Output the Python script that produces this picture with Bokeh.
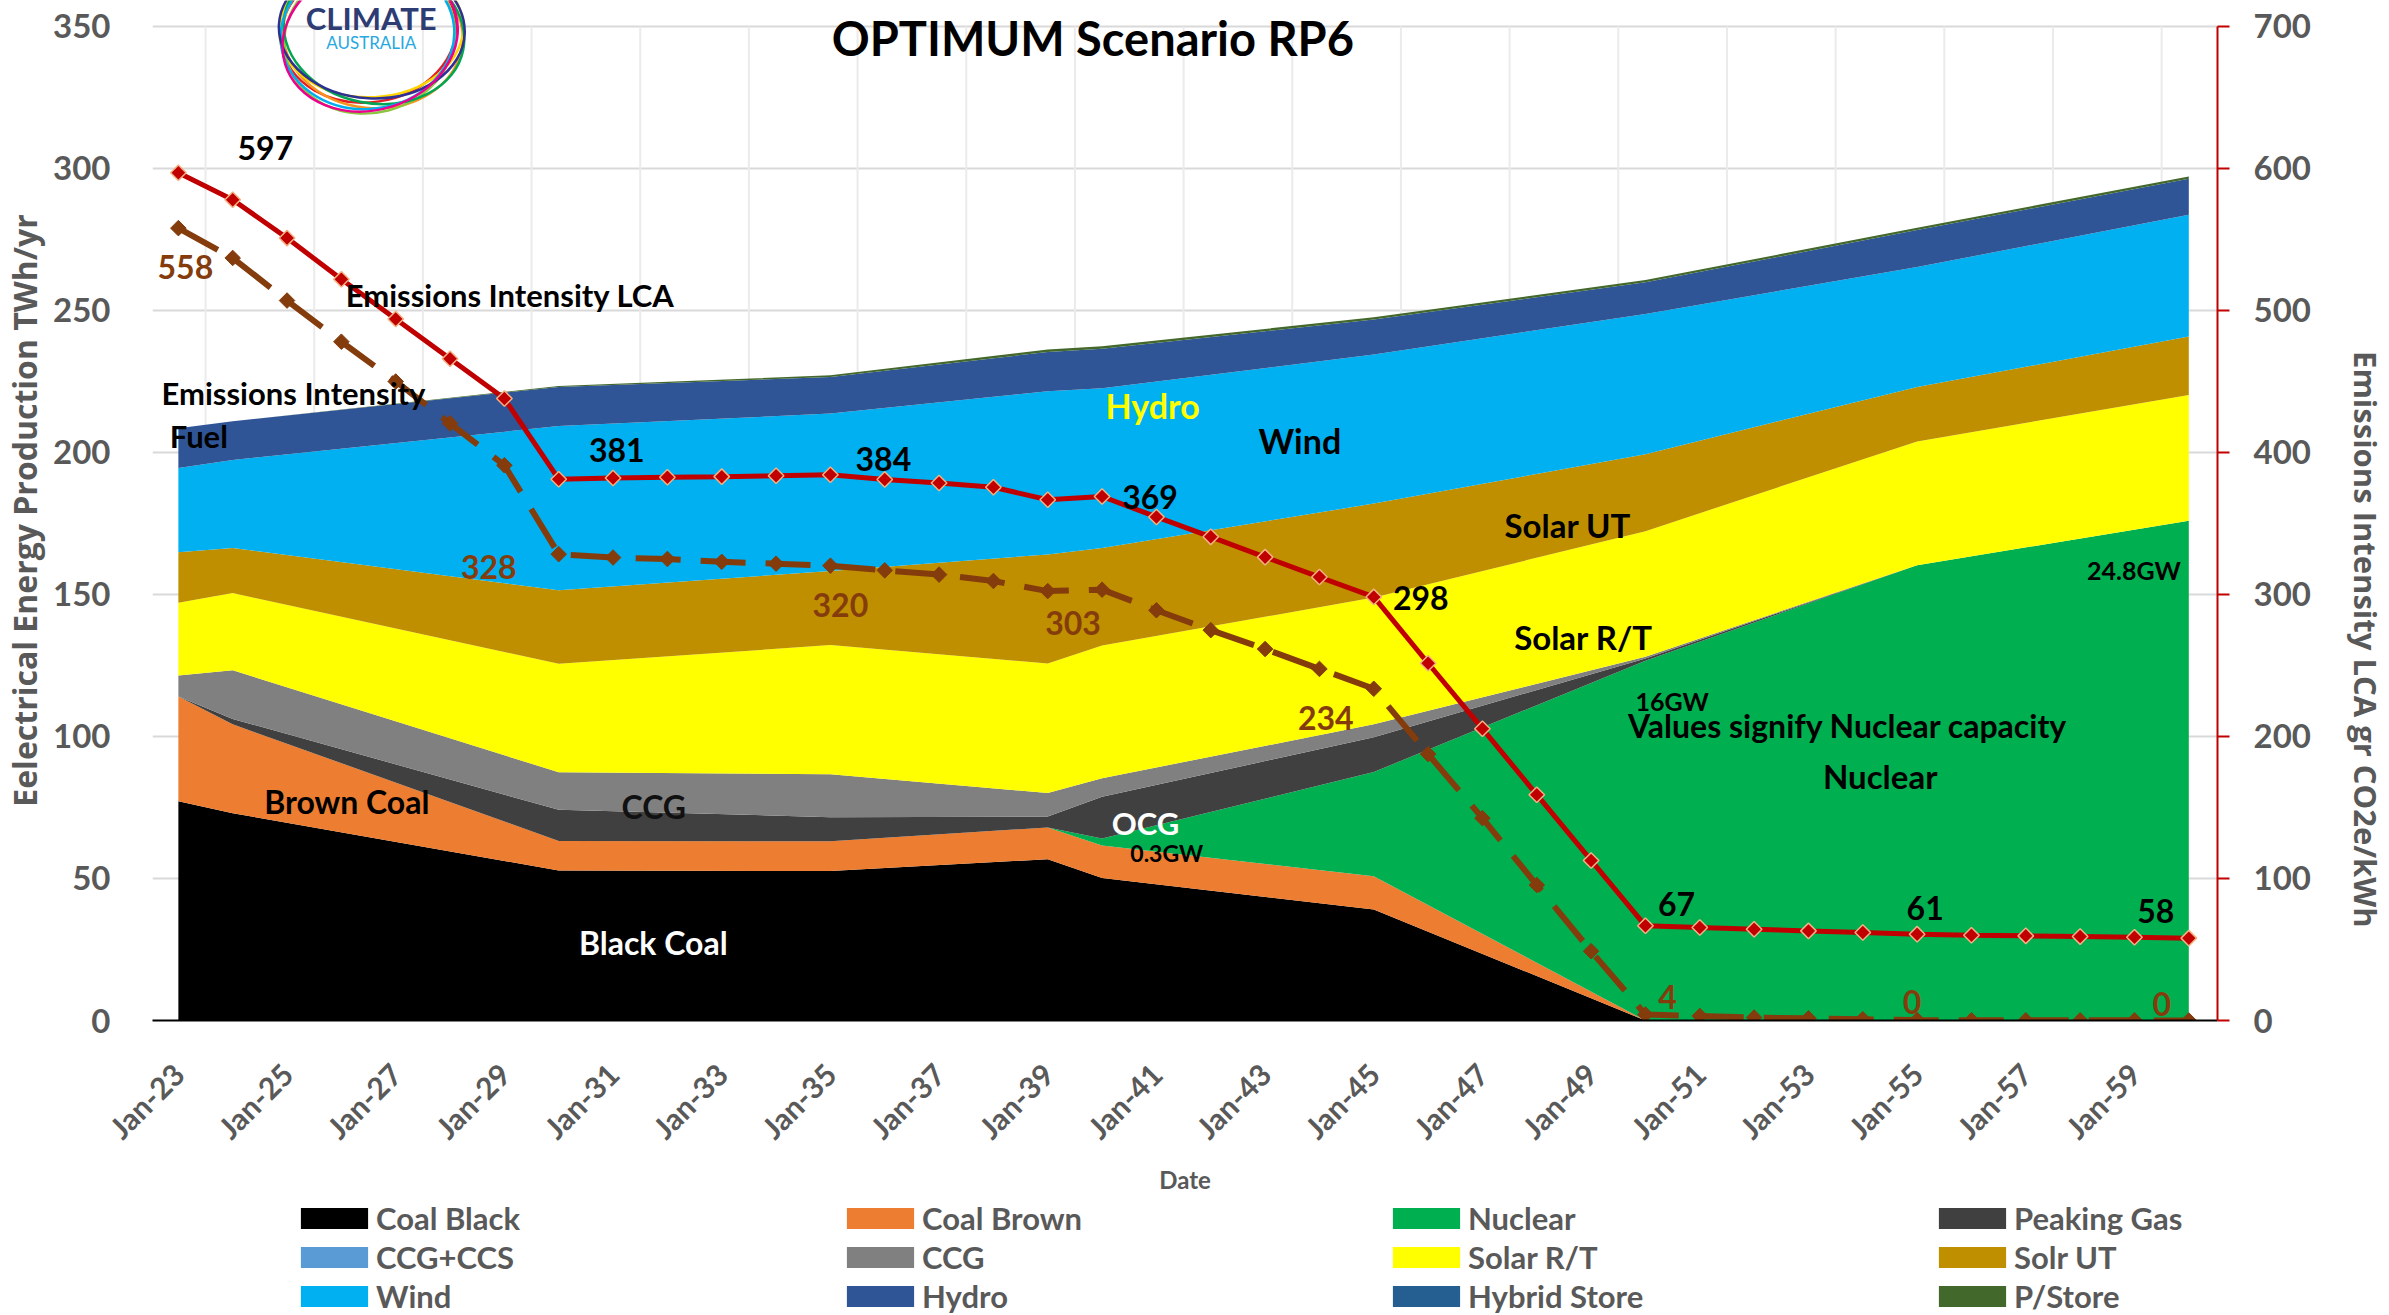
import numpy as np
from bokeh.plotting import figure
from bokeh.layouts import column
from bokeh.models import (Range1d, LinearAxis, FixedTicker, Label, Legend,
                          LegendItem, ColumnDataSource)
from bokeh.embed import file_html
from bokeh.resources import INLINE

# ---------------- data ----------------
milestone_years = [2023, 2024, 2030, 2035, 2039, 2040, 2045, 2050, 2055, 2060]
coal_black   = [77.2, 73.0, 52.8, 52.6, 56.8, 50.2, 39.1, 0.0, 0.0, 0.0]
coal_brown   = [36.9, 31.3, 10.4, 10.5, 11.2, 11.4, 11.7, 0.0, 0.0, 0.0]
nuclear      = [0.0, 0.0, 0.0, 0.0, 0.0, 2.5, 36.7, 126.7, 160.3, 176.0]
peaking_gas  = [0.0, 1.9, 11.0, 8.5, 3.8, 14.7, 12.2, 0.8, 0.0, 0.0]
ccg_ccs      = [0.0, 0.0, 0.0, 0.0, 0.0, 0.0, 0.0, 0.0, 0.0, 0.0]
ccg          = [7.4, 17.1, 13.2, 15.1, 8.3, 6.5, 4.6, 0.6, 0.0, 0.0]
solar_rt     = [25.6, 27.2, 38.2, 45.5, 45.6, 46.7, 44.6, 44.2, 43.6, 44.2]
solar_ut     = [17.8, 15.9, 25.9, 26.1, 38.4, 34.4, 33.1, 27.1, 19.2, 20.6]
wind         = [29.6, 31.0, 57.8, 55.4, 57.5, 56.2, 52.5, 49.4, 42.2, 42.9]
hydro        = [14.0, 13.6, 13.8, 12.9, 13.8, 13.9, 12.3, 11.1, 13.0, 12.7]
hybrid_store = [0.0, 0.0, 0.0, 0.0, 0.0, 0.0, 0.0, 0.0, 0.0, 0.0]
p_store      = [0.0, 0.0, 0.3, 0.6, 0.9, 0.9, 0.8, 0.8, 0.8, 0.8]

emission_years = list(range(2023, 2061))
emissions_lca = [597, 578, 551, 522, 494, 466, 438, 381.2, 382, 382.6,
                 383, 383.6, 384.3, 381, 378.5, 375.5, 366.7, 369, 354.6, 340.6,
                 326.3, 312.3, 298.3, 251.6, 205.5, 159, 112.7, 66.7, 65.5, 64.3,
                 63.1, 62.0, 60.8, 60.0, 59.6, 59.1, 58.6, 58.0]
emissions_fuel = [558, 537, 507, 478, 450, 420.5, 391, 328.4, 326, 325,
                  323, 321.7, 320.3, 317, 314, 309.5, 302.4, 303.4, 288.9, 274.9,
                  261.6, 247.6, 233.6, 187.6, 142.5, 95.4, 48.8, 4.2, 3.2, 2.1,
                  1.5, 0.9, 0.3, 0.2, 0.1, 0.1, 0.1, 0.0]

tick_years = [2023, 2025, 2027, 2029, 2031, 2033, 2035, 2037, 2039, 2041,
              2043, 2045, 2047, 2049, 2051, 2053, 2055, 2057, 2059]
tick_labels = ["Jan-23", "Jan-25", "Jan-27", "Jan-29", "Jan-31", "Jan-33", "Jan-35",
               "Jan-37", "Jan-39", "Jan-41", "Jan-43", "Jan-45", "Jan-47", "Jan-49",
               "Jan-51", "Jan-53", "Jan-55", "Jan-57", "Jan-59"]

series_names = ["Coal Black", "Coal Brown", "Nuclear", "Peaking Gas", "CCG+CCS", "CCG",
                "Solar R/T", "Solr UT", "Wind", "Hydro", "Hybrid Store", "P/Store"]
series_values = [coal_black, coal_brown, nuclear, peaking_gas, ccg_ccs, ccg,
                 solar_rt, solar_ut, wind, hydro, hybrid_store, p_store]
series_colors = ["#000000", "#ED7D31", "#00B050", "#404040", "#5B9BD5", "#808080",
                 "#FFFF00", "#BF8F00", "#00B0F0", "#2F5597", "#255E91", "#43682B"]
stack_order = ["Coal Black", "Coal Brown", "Nuclear", "Peaking Gas", "CCG+CCS", "CCG",
               "Solar R/T", "Solr UT", "Wind", "Hydro", "Hybrid Store", "P/Store"]

# ---------------- main figure ----------------
W = 2389
H_MAIN, H_LEG = 1196, 119
FONT = "Lato"
GRAY = "#595959"

p = figure(width=W, height=H_MAIN, output_backend="svg", toolbar_location=None,
           x_range=Range1d(2022.524, 2060.528), y_range=Range1d(0, 359.15),
           min_border_left=147, min_border_right=167, min_border_top=0,
           min_border_bottom=H_MAIN - 1025)
p.outline_line_color = None
p.background_fill_color = "white"
p.extra_y_ranges = {"em": Range1d(0, 718.3)}

# grids
p.xgrid.visible = False
p.ygrid.ticker = FixedTicker(ticks=[50, 100, 150, 200, 250, 300, 350])
p.ygrid.grid_line_color = "#D9D9D9"
p.ygrid.grid_line_width = 2
vgrid_x = [t + 0.5 for t in tick_years]
p.segment(x0=vgrid_x, x1=vgrid_x, y0=[0] * len(vgrid_x), y1=[350] * len(vgrid_x),
          line_color="#EBEBEB", line_width=2)

# stacked areas
src = ColumnDataSource(dict(year=milestone_years,
                            **{n: v for n, v in zip(series_names, series_values)}))
color_of = dict(zip(series_names, series_colors))
p.varea_stack(stackers=stack_order, x="year", source=src,
              color=[color_of[n] for n in stack_order])

# emissions lines (right axis)
p.line(emission_years, emissions_fuel, y_range_name="em", line_color="#843C0C",
       line_width=6, line_dash="45 20")
p.scatter(emission_years, emissions_fuel, y_range_name="em", marker="square",
          angle=np.pi / 4, size=11, fill_color="#843C0C", line_color="#843C0C")
p.line(emission_years, emissions_lca, y_range_name="em", line_color="#C00000",
       line_width=5)
p.scatter(emission_years, emissions_lca, y_range_name="em", marker="square",
          angle=np.pi / 4, size=11, fill_color="#C00000", line_color="#F4B183",
          line_width=1.5)

# logo rings
ring_colors = ["#E31E24", "#F7941D", "#FFD400", "#8CC63F", "#00A651", "#00AEEF",
               "#2E3192", "#EC008C"]
p.ellipse(x=[2026.50, 2026.58, 2026.55, 2026.52, 2026.60, 2026.48, 2026.56, 2026.53],
          y=[348, 347, 349, 346, 348, 347, 349, 346],
          width=[176, 180, 184, 172, 182, 174, 186, 178],
          height=[140, 146, 136, 150, 142, 148, 138, 144],
          angle=[0.15, -0.10, 0.05, 0.25, -0.20, 0.10, -0.05, 0.30],
          width_units="screen", height_units="screen",
          fill_color=None, line_color=ring_colors, line_width=2.5)

# axes
xa = p.xaxis[0]
xa.ticker = FixedTicker(ticks=tick_years)
xa.major_label_overrides = {t: l for t, l in zip(tick_years, tick_labels)}
xa.major_label_orientation = np.pi / 4
xa.major_label_standoff = 42
xa.major_label_text_font = FONT
xa.major_label_text_font_style = "bold"
xa.major_label_text_font_size = "30px"
xa.major_label_text_color = GRAY
xa.major_tick_line_color = None
xa.minor_tick_line_color = None
xa.axis_line_color = "#000000"
xa.axis_line_width = 2
xa.axis_label = "Date"
xa.axis_label_text_font = FONT
xa.axis_label_text_font_style = "bold"
xa.axis_label_text_font_size = "24px"
xa.axis_label_text_color = GRAY
xa.axis_label_standoff = 4

ya = p.yaxis[0]
ya.ticker = FixedTicker(ticks=[0, 50, 100, 150, 200, 250, 300, 350])
ya.axis_line_color = None
ya.major_tick_line_color = None
ya.minor_tick_line_color = None
ya.major_label_standoff = 36
ya.major_label_text_font = FONT
ya.major_label_text_font_style = "bold"
ya.major_label_text_font_size = "33px"
ya.major_label_text_color = GRAY
ya.axis_label = "Eelectrical Energy Production TWh/yr"
ya.axis_label_text_font = "Open Sans"
ya.axis_label_text_font_style = "bold"
ya.axis_label_text_font_size = "32px"
ya.axis_label_text_color = GRAY
ya.axis_label_standoff = 4

ra = LinearAxis(y_range_name="em",
                ticker=FixedTicker(ticks=[0, 100, 200, 300, 400, 500, 600, 700]),
                bounds=(0, 700))
ra.axis_line_color = "#C00000"
ra.axis_line_width = 2
ra.major_tick_line_color = "#C00000"
ra.major_tick_line_width = 2
ra.major_tick_out = 12
ra.major_tick_in = 0
ra.minor_tick_line_color = None
ra.major_label_standoff = 24
ra.major_label_text_font = FONT
ra.major_label_text_font_style = "bold"
ra.major_label_text_font_size = "33px"
ra.major_label_text_color = GRAY
# leading no-break spaces push the title below centre, as in the original
ra.axis_label = "\u00a0" * 32 + "Emissions Intensity LCA gr CO2e/kWh"
ra.axis_label_text_font = "Open Sans"
ra.axis_label_text_font_style = "bold"
ra.axis_label_text_font_size = "31px"
ra.axis_label_text_color = GRAY
ra.axis_label_standoff = 31
p.add_layout(ra, "right")


def add_label(x, y, text, size, color="#000000", align="center", rng="default",
              dx=0, dy=0, font=FONT, style="bold"):
    p.add_layout(Label(x=x, y=y, text=text, text_font=font, text_font_size=f"{size}px",
                       text_font_style=style, text_color=color, text_align=align,
                       text_baseline="middle", x_offset=dx, y_offset=dy,
                       y_range_name=rng))


# title and logo text
add_label(2039.83, 345.8, "OPTIMUM Scenario RP6", 47)
add_label(2026.55, 353.0, "CLIMATE", 31, color="#2E3C74")
add_label(2026.55, 344.2, "AUSTRALIA", 17, color="#29A8E0", style="normal")

# series annotations
add_label(2026.08, 255.4, "Emissions Intensity LCA", 31, align="left")
add_label(2022.69, 221.1, "Emissions Intensity", 31, align="left")
add_label(2022.84, 205.7, "Fuel", 31, align="left")
add_label(2040.93, 216.5, "Hydro", 34, color="#FFFF00")
add_label(2043.64, 204.3, "Wind", 34)
add_label(2048.57, 174.5, "Solar UT", 33)
add_label(2048.86, 135.2, "Solar R/T", 33)
add_label(2050.49, 112.5, "16GW", 25)
add_label(2049.68, 103.7, "Values signify Nuclear capacity", 32, align="left")
add_label(2054.32, 86.2, "Nuclear", 33)
add_label(2058.99, 158.7, "24.8GW", 25)
add_label(2040.80, 69.7, "OCG", 31, color="#FFFFFF")
add_label(2041.19, 58.9, "0.3GW", 23)
add_label(2026.10, 77.1, "Brown Coal", 32)
add_label(2031.75, 75.3, "CCG", 32, color="#111111")
add_label(2031.74, 27.3, "Black Coal", 32, color="#FFFFFF")

# data labels on the emissions lines
lca_labels = [(2023, 87, 25), (2030, 58, 29), (2035, 53, 16), (2040, 48, 0),
              (2045, 47, -1), (2050, 31, 22), (2055, 8, 26), (2060, -33, 27)]
fuel_labels = [(2023, 7, -39), (2030, -70, -13), (2035, 10, -39), (2040, -29, -33),
               (2045, -48, -29), (2050, 22, 18), (2055, -5, 18), (2060, -27, 17)]
for yr, dx, dy in lca_labels:
    v = emissions_lca[emission_years.index(yr)]
    add_label(yr, v, f"{round(v)}", 32, rng="em", dx=dx, dy=dy)
for yr, dx, dy in fuel_labels:
    v = emissions_fuel[emission_years.index(yr)]
    add_label(yr, v, f"{round(v)}", 32, color="#843C0C", rng="em", dx=dx, dy=dy)

# ---------------- legend strip ----------------
lf = figure(width=W, height=H_LEG, output_backend="svg", toolbar_location=None,
            x_range=Range1d(0, 1), y_range=Range1d(0, 1), min_border=0)
lf.outline_line_color = None
lf.axis.visible = False
lf.grid.visible = False
legend_order = ["Coal Black", "Coal Brown", "Nuclear", "Peaking Gas",
                "CCG+CCS", "CCG", "Solar R/T", "Solr UT",
                "Wind", "Hydro", "Hybrid Store", "P/Store"]
items = []
for n in legend_order:
    # legend proxy, lying outside the strip's visible range
    r = lf.varea(x=[2, 3], y1=[2, 2], y2=[3, 3], color=color_of[n])
    items.append(LegendItem(label=n, renderers=[r]))
legend = Legend(items=items, orientation="horizontal", ncols=4, location=(140, 0),
                glyph_width=84, glyph_height=26, label_standoff=0, label_width=461,
                label_height=37, spacing=1, padding=0, margin=0,
                border_line_color=None, background_fill_alpha=0,
                label_text_font=FONT, label_text_font_style="bold",
                label_text_font_size="31px", label_text_color=GRAY)
lf.add_layout(legend)

open("out.html", "w").write(file_html(column(p, lf, spacing=0), INLINE))
